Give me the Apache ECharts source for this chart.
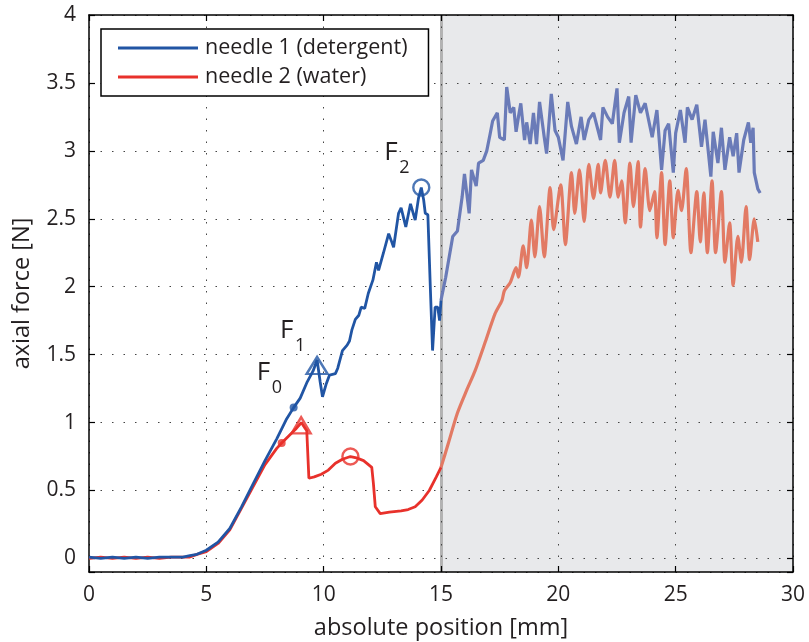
<!DOCTYPE html>
<html><head><meta charset="utf-8">
<script src="https://cdn.jsdelivr.net/npm/echarts@6/dist/echarts.min.js"></script>
<style>html,body{margin:0;padding:0;background:#fff}#c{width:809px;height:642px}</style>
</head><body><div id="c"></div>
<script>
// ---- data ----
const blueX1 = [0,0.5,1,1.5,2,2.5,3,3.5,4,4.3,4.6,5,5.5,6,6.5,7,7.5,8,8.4,8.72,9.0,9.3,9.55,9.72,9.85,9.95,10.1,10.25,10.5,10.6,10.8,11.0,11.1,11.2,11.35,11.5,11.6,11.75,11.9,12.1,12.25,12.34,12.55,12.77,12.9,12.98,13.19,13.3,13.5,13.7,13.9,14.04,14.16,14.26,14.33,14.44,14.54,14.64,14.75,14.86,14.94,15.0];
const blueY1 = [0.01,0.00,0.01,0.00,0.01,0.00,0.01,0.01,0.01,0.02,0.03,0.06,0.12,0.22,0.38,0.55,0.72,0.88,1.02,1.11,1.18,1.30,1.38,1.46,1.30,1.19,1.28,1.35,1.36,1.40,1.53,1.57,1.60,1.68,1.76,1.79,1.85,1.84,1.95,2.05,2.18,2.12,2.25,2.39,2.33,2.29,2.54,2.58,2.44,2.61,2.49,2.65,2.73,2.64,2.54,2.53,2.02,1.53,1.85,1.85,1.75,1.90];
const blueX2 = [15.0,15.2,15.5,15.7,15.9,16.0,16.2,16.3,16.5,16.6,16.8,16.95,17.1,17.2,17.4,17.5,17.7,17.8,17.95,18.1,18.2,18.3,18.4,18.56,18.65,18.8,18.94,19.07,19.2,19.4,19.5,19.7,19.86,20.0,20.2,20.4,20.56,20.77,20.97,21.1,21.3,21.5,21.8,21.9,22.1,22.3,22.5,22.6,22.8,23.0,23.1,23.3,23.5,23.7,24.0,24.2,24.4,24.55,24.7,24.9,25.0,25.2,25.4,25.5,25.7,25.9,26.1,26.25,26.5,26.6,26.8,26.95,27.1,27.3,27.45,27.6,27.7,27.9,28.1,28.2,28.3,28.35,28.5,28.6];
const blueY2 = [1.90,2.07,2.37,2.41,2.66,2.83,2.54,2.86,2.74,2.91,2.93,3.00,3.13,3.22,3.28,3.10,3.08,3.47,3.28,3.32,3.14,3.25,3.35,3.08,3.21,3.05,3.28,3.05,3.36,3.10,2.98,3.42,3.15,3.10,2.93,3.36,3.18,3.05,3.25,3.08,3.23,3.28,3.08,3.32,3.25,3.20,3.46,3.06,3.28,3.40,3.06,3.41,3.28,3.35,3.10,3.30,2.86,3.15,3.20,2.84,3.13,3.30,3.06,3.32,3.23,3.34,3.03,3.23,2.81,3.14,2.91,3.17,2.86,3.10,2.96,3.13,2.84,3.08,3.21,3.06,3.17,2.84,2.72,2.69];
const redX1 = [0,0.5,1,1.5,2,2.5,3,3.5,4,4.3,4.6,5,5.5,6,6.5,7,7.5,8,8.21,8.5,8.8,9.05,9.2,9.28,9.37,9.6,9.9,10.2,10.5,10.8,11.14,11.4,11.7,12.05,12.12,12.2,12.41,12.8,13.3,13.6,13.9,14.2,14.5,14.8,15.0];
const redY1 = [0.00,0.01,0.00,0.01,0.00,0.01,0.00,0.01,0.01,0.01,0.03,0.05,0.11,0.21,0.37,0.53,0.69,0.81,0.85,0.90,0.95,1.00,0.96,0.94,0.59,0.60,0.62,0.65,0.70,0.73,0.75,0.74,0.72,0.67,0.55,0.38,0.33,0.34,0.35,0.36,0.38,0.43,0.50,0.60,0.67];
const redX2 = [15.0,15.3,15.7,16.1,16.45,16.9,17.3,17.6,17.7,17.95,18.2,18.3,18.5,18.65,18.85,19.0,19.2,19.4,19.65,19.8,20.1,20.3,20.56,20.7,20.9,21.1,21.3,21.5,21.7,21.8,22.0,22.2,22.4,22.55,22.7,22.85,23.05,23.2,23.4,23.5,23.7,23.9,24.1,24.2,24.4,24.55,24.75,24.9,25.1,25.25,25.45,25.65,25.9,26.05,26.2,26.35,26.55,26.7,26.95,27.1,27.3,27.45,27.65,27.8,28.0,28.15,28.35,28.5];
const redY2 = [0.67,0.84,1.07,1.24,1.38,1.60,1.80,1.90,1.97,2.03,2.14,2.07,2.30,2.14,2.49,2.22,2.59,2.22,2.73,2.42,2.75,2.31,2.84,2.54,2.86,2.48,2.90,2.65,2.90,2.69,2.93,2.66,2.93,2.66,2.78,2.47,2.91,2.59,2.92,2.44,2.87,2.56,2.70,2.36,2.84,2.31,2.78,2.36,2.71,2.56,2.87,2.25,2.70,2.33,2.69,2.25,2.78,2.25,2.70,2.18,2.47,2.01,2.37,2.18,2.59,2.20,2.50,2.33];

const blueF0 = [8.72, 1.11], blueF1 = [9.72, 1.42], blueF2 = [14.16, 2.73];
const redF0 = [8.21, 0.85], redF1 = [9.04, 0.98], redF2 = [11.14, 0.75];
const seriesNames = ['needle 1 (detergent)', 'needle 2 (water)'];
const annotations = [
  {main: 'F', sub: '0', at: blueF0},
  {main: 'F', sub: '1', at: blueF1},
  {main: 'F', sub: '2', at: blueF2}
];
const shadeRange = [15, 30];
const xRange = [0, 30], xStep = 5;
const yRange = [-0.1, 4];
const xTitle = 'absolute position [mm]', yTitle = 'axial force [N]';

// ---- chart ----
const FONT = '"Open Sans", "Noto Sans", sans-serif';
const TXT = '#231f20';
const BLUE = '#2155a4', BLUE_F = '#6a7bb8', RED = '#e8312b', RED_F = '#e27a64';
const zip = (xs, ys) => xs.map((x, i) => [x, ys[i]]);

const chart = echarts.init(document.getElementById('c'), null, {renderer: 'canvas'});

const dotted = {show: true, lineStyle: {color: '#444', width: 1, type: [1.5, 10]}};
const axisBase = {
  type: 'value', z: 1,
  axisLine: {show: true, onZero: false, lineStyle: {color: '#000', width: 1.5}},
  axisTick: {show: true, inside: true, length: 6, lineStyle: {color: '#000', width: 1.2}},
};
function yFmt(v) { return v < 0 ? '' : String(v); }

const option = {
  animation: false,
  backgroundColor: '#fff',
  textStyle: {fontFamily: FONT},
  grid: {left: 89, right: 16, top: 15, bottom: 70, containLabel: false, outerBoundsMode: 'none'},
  legend: {
    data: seriesNames, orient: 'vertical', left: 101, top: 29,
    padding: [8, 21, 8, 17], itemGap: 7, itemWidth: 80, itemHeight: 3,
    icon: 'rect', backgroundColor: '#fff', borderColor: '#000', borderWidth: 1.5,
    textStyle: {fontSize: 21.5, color: TXT, fontFamily: FONT, padding: [0, 0, 0, 2], lineHeight: 22},
    z: 10
  },
  xAxis: [
    Object.assign({}, axisBase, {
      min: xRange[0], max: xRange[1], interval: xStep, position: 'bottom',
      axisLabel: {fontSize: 21, color: TXT, margin: 13, fontFamily: FONT},
      splitLine: {show: false},
      name: xTitle, nameLocation: 'middle', nameGap: 44,
      nameTextStyle: {fontSize: 23.5, color: TXT, fontFamily: FONT}
    }),
    Object.assign({}, axisBase, {
      min: xRange[0], max: xRange[1], interval: xStep, position: 'top',
      axisLabel: {show: false}, splitLine: dotted
    })
  ],
  yAxis: [
    Object.assign({}, axisBase, {
      min: yRange[0], max: yRange[1], splitNumber: 8, position: 'left',
      axisLabel: {fontSize: 21, color: TXT, margin: 13, fontFamily: FONT, formatter: yFmt},
      splitLine: {show: false},
      name: yTitle, nameLocation: 'middle', nameGap: 55, nameRotate: 90,
      nameTextStyle: {fontSize: 23.5, color: TXT, fontFamily: FONT}
    }),
    Object.assign({}, axisBase, {
      min: yRange[0], max: yRange[1], splitNumber: 8, position: 'right',
      axisLabel: {show: false}, splitLine: dotted
    })
  ],
  series: [
    {
      name: 'shade', type: 'line', data: [], z: 0, silent: true,
      markArea: {
        silent: true, z: 0,
        itemStyle: {color: '#e8e9eb', borderWidth: 0},
        data: [[{xAxis: shadeRange[0]}, {xAxis: shadeRange[1]}]]
      },
      markLine: {
        silent: true, z: 0, symbol: 'none', label: {show: false},
        lineStyle: {color: '#b3b3b3', width: 3, type: 'solid'},
        data: [{xAxis: shadeRange[0]}]
      }
    },
    {name: 'needle 2 faded', type: 'line', data: zip(redX2, redY2), showSymbol: false, smooth: 0.25,
      lineStyle: {color: RED_F, width: 3.2}, itemStyle: {color: RED_F}, z: 3},
    {name: 'needle 1 faded', type: 'line', data: zip(blueX2, blueY2), showSymbol: false,
      lineStyle: {color: BLUE_F, width: 3.2}, itemStyle: {color: BLUE_F}, z: 3},
    {name: seriesNames[1], type: 'line', data: zip(redX1, redY1), showSymbol: false,
      lineStyle: {color: RED, width: 2.8}, itemStyle: {color: RED}, z: 4},
    {name: seriesNames[0], type: 'line', data: zip(blueX1, blueY1), showSymbol: false,
      lineStyle: {color: BLUE, width: 2.8}, itemStyle: {color: BLUE}, z: 5},
    {name: 'blue dot', type: 'scatter', data: [blueF0], symbol: 'circle', symbolSize: 8,
      itemStyle: {color: BLUE}, z: 6},
    {name: 'blue marks', type: 'scatter', data: [blueF1], symbol: 'triangle', symbolSize: [21, 17],
      itemStyle: {color: 'rgba(0,0,0,0)', borderColor: BLUE, borderWidth: 2.4}, z: 6},
    {name: 'blue circ', type: 'scatter', data: [blueF2], symbol: 'circle', symbolSize: 16,
      itemStyle: {color: 'rgba(0,0,0,0)', borderColor: BLUE, borderWidth: 2.4}, z: 6},
    {name: 'red dot', type: 'scatter', data: [redF0], symbol: 'circle', symbolSize: 8,
      itemStyle: {color: RED}, z: 6},
    {name: 'red marks', type: 'scatter', data: [redF1], symbol: 'triangle', symbolSize: [19, 16],
      itemStyle: {color: 'rgba(0,0,0,0)', borderColor: RED, borderWidth: 2.4}, z: 6},
    {name: 'red circ', type: 'scatter', data: [redF2], symbol: 'circle', symbolSize: 16,
      itemStyle: {color: 'rgba(0,0,0,0)', borderColor: RED, borderWidth: 2.4}, z: 6}
  ]
};
chart.setOption(option);

const graphics = [];
annotations.forEach(a => {
  const p = chart.convertToPixel({xAxisIndex: 0, yAxisIndex: 0}, a.at);
  graphics.push({type: 'text', x: p[0] - 37, y: p[1] - 48, z: 20,
    style: {text: a.main, fontSize: 26, fontFamily: FONT, fill: TXT, verticalAlign: 'top', align: 'left'}});
  graphics.push({type: 'text', x: p[0] - 22, y: p[1] - 29, z: 20,
    style: {text: a.sub, fontSize: 18, fontFamily: FONT, fill: TXT, verticalAlign: 'top', align: 'left'}});
});
chart.setOption({graphic: graphics});
</script>
</body></html>
